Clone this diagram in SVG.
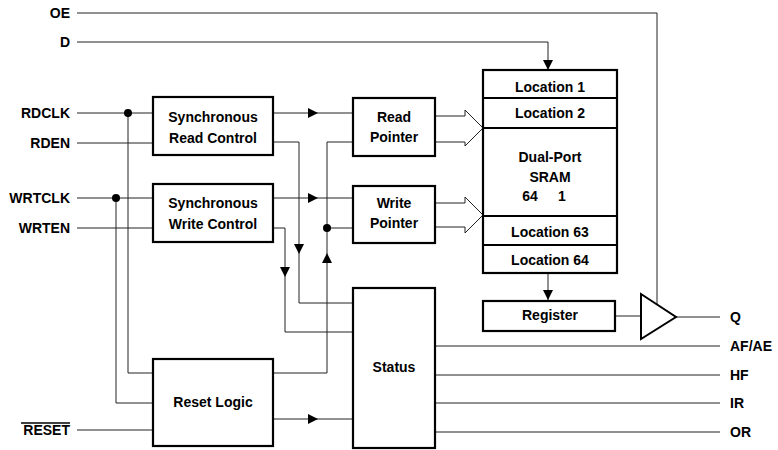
<svg xmlns="http://www.w3.org/2000/svg" width="778" height="450" viewBox="0 0 778 450">
<style>
.box{fill:#fff;stroke:#000;stroke-width:2.2}
.w{fill:none;stroke:#222;stroke-width:1}
.ah{fill:#000;stroke:none}
.t{font-family:"Liberation Sans",Arial,sans-serif;font-weight:bold;font-size:14px;fill:#000;text-anchor:middle}
.l{font-family:"Liberation Sans",Arial,sans-serif;font-weight:bold;font-size:14px;fill:#000;text-anchor:end}
.r{font-family:"Liberation Sans",Arial,sans-serif;font-weight:bold;font-size:14px;fill:#000;text-anchor:start}
</style>
<defs>
<polygon id="ar" points="-5,-5 5,0 -5,5"/>
</defs>
<rect width="778" height="450" fill="#fff"/>
<g id="connectors">
<path class="w" d="M77,13 H657 V305"/>
<path class="w" d="M77,42 H548 V70"/>
<path class="w" d="M77,113 H153"/>
<path class="w" d="M77,143 H153"/>
<path class="w" d="M77,198 H153"/>
<path class="w" d="M77,228 H153"/>
<path class="w" d="M77,430 H153"/>
<path class="w" d="M128,113 V373 H153"/>
<path class="w" d="M116,198 V403 H153"/>
<path class="w" d="M273,113 H353"/>
<path class="w" d="M273,198 H353"/>
<path class="w" d="M273,142 H299 V303 H353"/>
<path class="w" d="M273,228 H285 V332 H353"/>
<path class="w" d="M353,142 H327 V373 H273"/>
<path class="w" d="M327,228 H353"/>
<path class="w" d="M273,419 H353"/>
<path class="w" d="M548,273 V301"/>
<path class="w" d="M615,316 H641"/>
<path class="w" d="M676,317 H720"/>
<path class="w" d="M435,346 H720 M435,375 H720 M435,403 H720 M435,432 H720"/>
<path class="w" fill="#fff" d="M435,116 H465 V110 L483,128 L465,146 V142 H435"/>
<path class="w" fill="#fff" d="M435,203 H465 V197 L483,215 L465,233 V227 H435"/>
<circle cx="128" cy="113" r="4" fill="#000"/>
<circle cx="116" cy="198" r="4" fill="#000"/>
<circle cx="327" cy="228" r="4" fill="#000"/>
<use href="#ar" class="ah" transform="translate(313,113)"/>
<use href="#ar" class="ah" transform="translate(313,198)"/>
<use href="#ar" class="ah" transform="translate(313,419)"/>
<use href="#ar" class="ah" transform="translate(299,249) rotate(90)"/>
<use href="#ar" class="ah" transform="translate(285,272) rotate(90)"/>
<use href="#ar" class="ah" transform="translate(327,258) rotate(-90)"/>
<use href="#ar" class="ah" transform="translate(548,65) rotate(90)"/>
<use href="#ar" class="ah" transform="translate(548,295) rotate(90)"/>
</g>
<g id="labels">
<text class="l" x="70" y="18">OE</text>
<text class="l" x="70" y="47">D</text>
<text class="l" x="70" y="118">RDCLK</text>
<text class="l" x="70" y="148">RDEN</text>
<text class="l" x="70" y="203">WRTCLK</text>
<text class="l" x="70" y="233">WRTEN</text>
<text class="l" x="70" y="435">RESET</text>
<line x1="21" y1="423" x2="70" y2="423" stroke="#000" stroke-width="1.3"/>
<text class="r" x="730" y="322">Q</text>
<text class="r" x="730" y="351">AF/AE</text>
<text class="r" x="730" y="380">HF</text>
<text class="r" x="730" y="408">IR</text>
<text class="r" x="730" y="437">OR</text>
</g>
<g id="sync-read">
<rect class="box" x="153" y="97" width="120" height="58"/>
<text class="t" x="213" y="122">Synchronous</text>
<text class="t" x="213" y="143">Read Control</text>
</g>
<g id="sync-write">
<rect class="box" x="153" y="184" width="120" height="58"/>
<text class="t" x="213" y="208">Synchronous</text>
<text class="t" x="213" y="229">Write  Control</text>
</g>
<g id="read-pointer">
<rect class="box" x="353" y="98" width="82" height="58"/>
<text class="t" x="394" y="122">Read</text>
<text class="t" x="394" y="142">Pointer</text>
</g>
<g id="write-pointer">
<rect class="box" x="353" y="186" width="82" height="57"/>
<text class="t" x="394" y="208">Write</text>
<text class="t" x="394" y="228">Pointer</text>
</g>
<g id="sram">
<rect class="box" x="483" y="70" width="134" height="203"/>
<line x1="483" y1="98" x2="617" y2="98" stroke="#000" stroke-width="2"/>
<line x1="483" y1="128" x2="617" y2="128" stroke="#000" stroke-width="2"/>
<line x1="483" y1="216" x2="617" y2="216" stroke="#000" stroke-width="2"/>
<line x1="483" y1="245" x2="617" y2="245" stroke="#000" stroke-width="2"/>
<text class="t" x="550" y="92">Location 1</text>
<text class="t" x="550" y="118">Location 2</text>
<text class="t" x="550" y="162">Dual-Port</text>
<text class="t" x="550" y="182">SRAM</text>
<text class="t" x="530" y="201">64</text>
<text class="t" x="562" y="201">1</text>
<text class="t" x="550" y="237">Location 63</text>
<text class="t" x="550" y="265">Location 64</text>
</g>
<g id="register">
<rect class="box" x="483" y="301" width="132" height="30"/>
<text class="t" x="550" y="320">Register</text>
</g>
<g id="buffer">
<polygon points="641,294 676,317 641,339" fill="#fff" stroke="#000" stroke-width="2"/>
</g>
<g id="status">
<rect class="box" x="353" y="288" width="82" height="160"/>
<text class="t" x="394" y="372">Status</text>
</g>
<g id="reset-logic">
<rect class="box" x="153" y="359" width="120" height="87"/>
<text class="t" x="213" y="407">Reset Logic</text>
</g>
</svg>
